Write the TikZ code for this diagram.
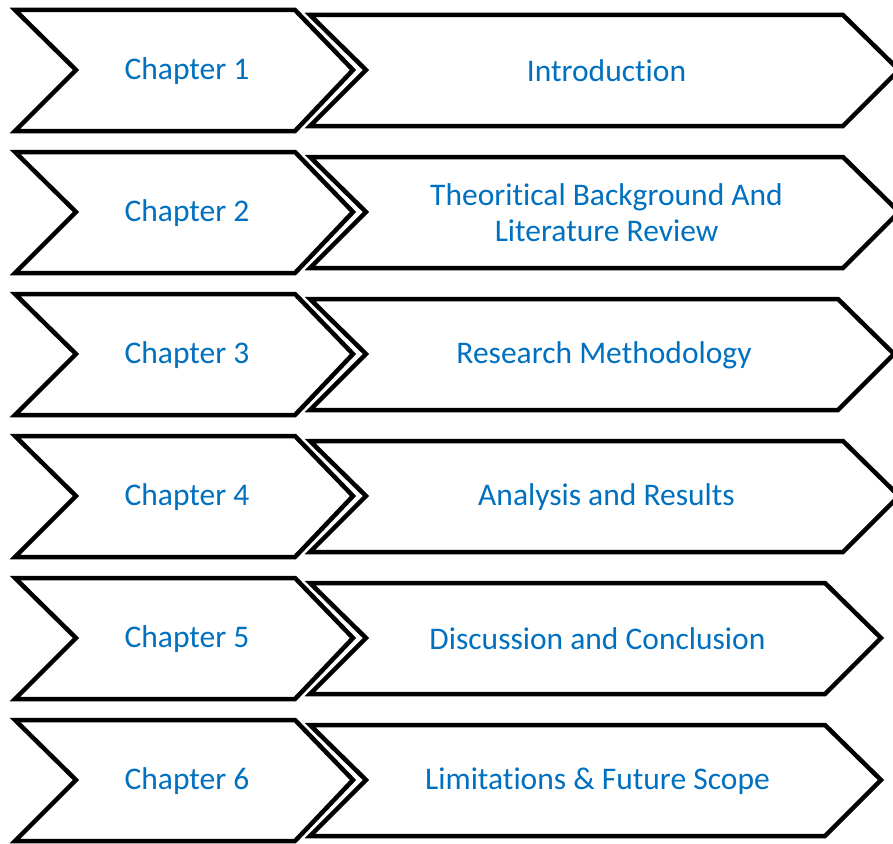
\documentclass[tikz,border=0pt]{standalone}
\usepackage{fontspec}
\setmainfont[Ligatures={NoCommon}]{Carlito}
\definecolor{txtblue}{HTML}{0070C0}
\tikzset{
  shapeline/.style={draw=black, line width=4.5pt, line join=miter, fill=white},
  chaptxt/.style={text=txtblue, font=\fontsize{31.5}{36}\selectfont, align=center, inner sep=0pt},
}
\begin{document}
\begin{tikzpicture}[x=1pt,y=-1pt]
\useasboundingbox (0,0) rectangle (893,843);
\clip (0,0) rectangle (893,843);
\foreach \i/\lab/\rc/\txt in {0/1/843/{Introduction},1/2/843/{Theoritical Background And\\Literature Review},2/3/838/{Research Methodology},3/4/843/{Analysis and Results},4/5/825/{Discussion and Conclusion},5/6/825/{Limitations \& Future Scope}}{
  \pgfmathsetmacro{\cy}{70+142*\i}
  \pgfmathsetmacro{\tip}{\rc+56}
  \pgfmathsetmacro{\tx}{(366+\rc)/2+2}
  \draw[shapeline] (15,\cy-60) -- (295,\cy-60) -- (353,\cy) -- (295,\cy+61) -- (15,\cy+61) -- (76,\cy) -- cycle;
  \draw[shapeline] (310,\cy-55) -- (\rc,\cy-55) -- (\tip,\cy) -- (\rc,\cy+56) -- (310,\cy+56) -- (366,\cy) -- cycle;
  \node[chaptxt] (ch\lab) at (187,\cy+1) {Chapter \lab};
  \node[chaptxt] (ti\lab) at (\tx,\cy+1) {\txt};
}
\end{tikzpicture}
\end{document}
